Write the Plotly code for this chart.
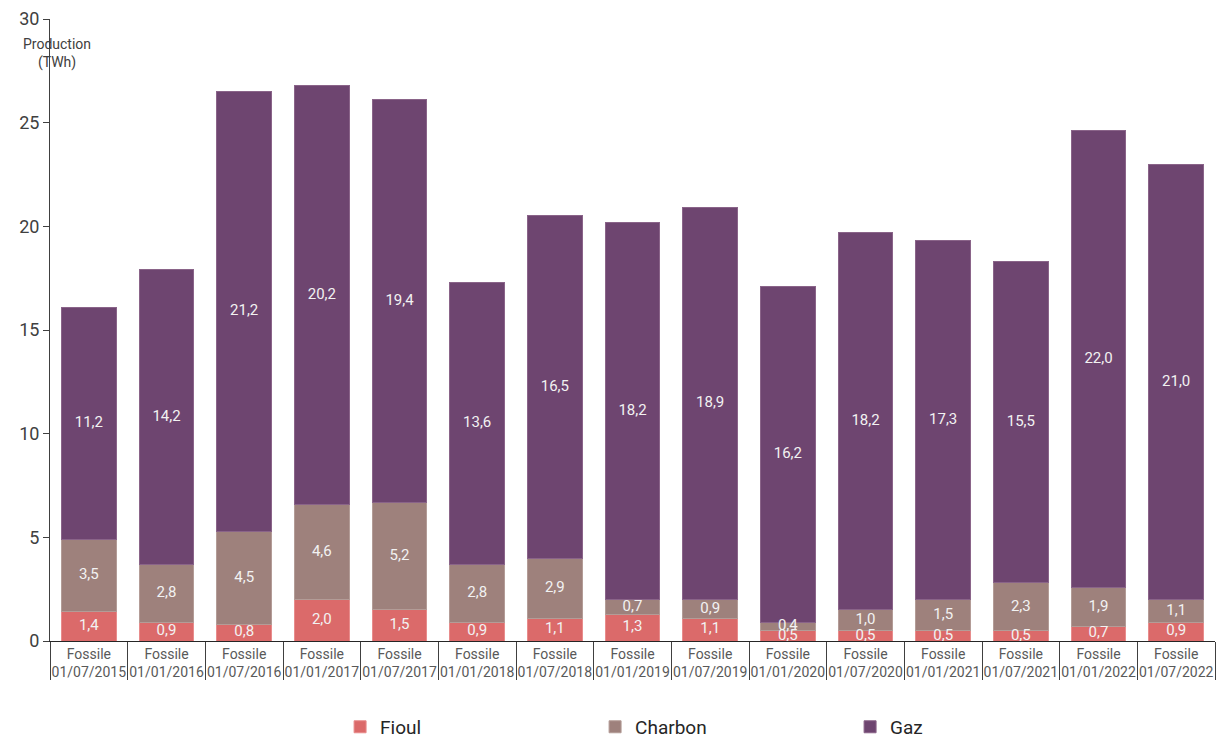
import plotly.graph_objects as go

# Semesters of fossil-fuel electricity production
dates = ["01/07/2015", "01/01/2016", "01/07/2016", "01/01/2017", "01/07/2017",
         "01/01/2018", "01/07/2018", "01/01/2019", "01/07/2019", "01/01/2020",
         "01/07/2020", "01/01/2021", "01/07/2021", "01/01/2022", "01/07/2022"]
group = ["Fossile"] * len(dates)

# Production per fuel, TWh
fioul = [1.4, 0.9, 0.8, 2.0, 1.5, 0.9, 1.1, 1.3, 1.1, 0.5, 0.5, 0.5, 0.5, 0.7, 0.9]
charbon = [3.5, 2.8, 4.5, 4.6, 5.2, 2.8, 2.9, 0.7, 0.9, 0.4, 1.0, 1.5, 2.3, 1.9, 1.1]
gaz = [11.2, 14.2, 21.2, 20.2, 19.4, 13.6, 16.5, 18.2, 18.9, 16.2, 18.2, 17.3, 15.5, 22.0, 21.0]

y_ticks = [0, 5, 10, 15, 20, 25, 30]

series = [
    ("Fioul", fioul, "#DB6A6A", "#E88C8C"),
    ("Charbon", charbon, "#9E817C", "#B39C97"),
    ("Gaz", gaz, "#6E4570", "#8A6489"),
]

x = [dates, group]
fig = go.Figure()

base = [0.0] * len(dates)
label_x_dates, label_x_group, label_y, label_t = [], [], [], []
for name, vals, color, edge in series:
    fig.add_trace(go.Bar(
        name=name, x=x, y=vals,
        marker=dict(color=color, line=dict(color=edge, width=1)),
        width=0.7,
    ))
    for i, v in enumerate(vals):
        label_x_dates.append(dates[i])
        label_x_group.append(group[i])
        label_y.append(base[i] + v / 2)
        label_t.append(f"{v:.1f}".replace(".", ","))
        base[i] += v

# Value labels centred in each segment
fig.add_trace(go.Scatter(
    x=[label_x_dates, label_x_group], y=label_y, text=label_t,
    mode="text", textposition="middle center",
    textfont=dict(color="#F2F2F2", size=15, family="Roboto, sans-serif"),
    showlegend=False, hoverinfo="skip",
))

fig.update_layout(
    barmode="stack",
    width=1224, height=738,
    margin=dict(l=50, r=9, t=19, b=97, autoexpand=False),
    paper_bgcolor="white", plot_bgcolor="white",
    font=dict(family="Roboto, sans-serif", color="#595959"),
    legend=dict(
        orientation="h", x=0.249, xanchor="left",
        yref="container", y=0.015, yanchor="middle",
        font=dict(size=19, color="#262626"), entrywidth=210, entrywidthmode="pixels",
        traceorder="normal",
    ),
    showlegend=True,
)

fig.update_xaxes(
    type="multicategory",
    range=[-0.5, len(dates) - 0.5],
    showline=True, linecolor="#262626", linewidth=1,
    showdividers=True, dividercolor="#404040", dividerwidth=1,
    tickfont=dict(size=14, color="#595959"),
    showgrid=False, ticks="",
)
fig.update_yaxes(
    range=[0, 30], tickvals=y_ticks,
    showline=True, linecolor="#404040", linewidth=1,
    ticks="outside", ticklen=6, tickcolor="#404040",
    tickfont=dict(size=18, color="#404040"),
    showgrid=False, zeroline=False,
)

fig.add_annotation(
    text="Production<br>(TWh)", xref="paper", yref="paper",
    x=0.006, y=0.944, xanchor="center", yanchor="middle",
    showarrow=False, align="center",
    font=dict(size=14, color="#404040"),
)

fig.write_html("out.html")
